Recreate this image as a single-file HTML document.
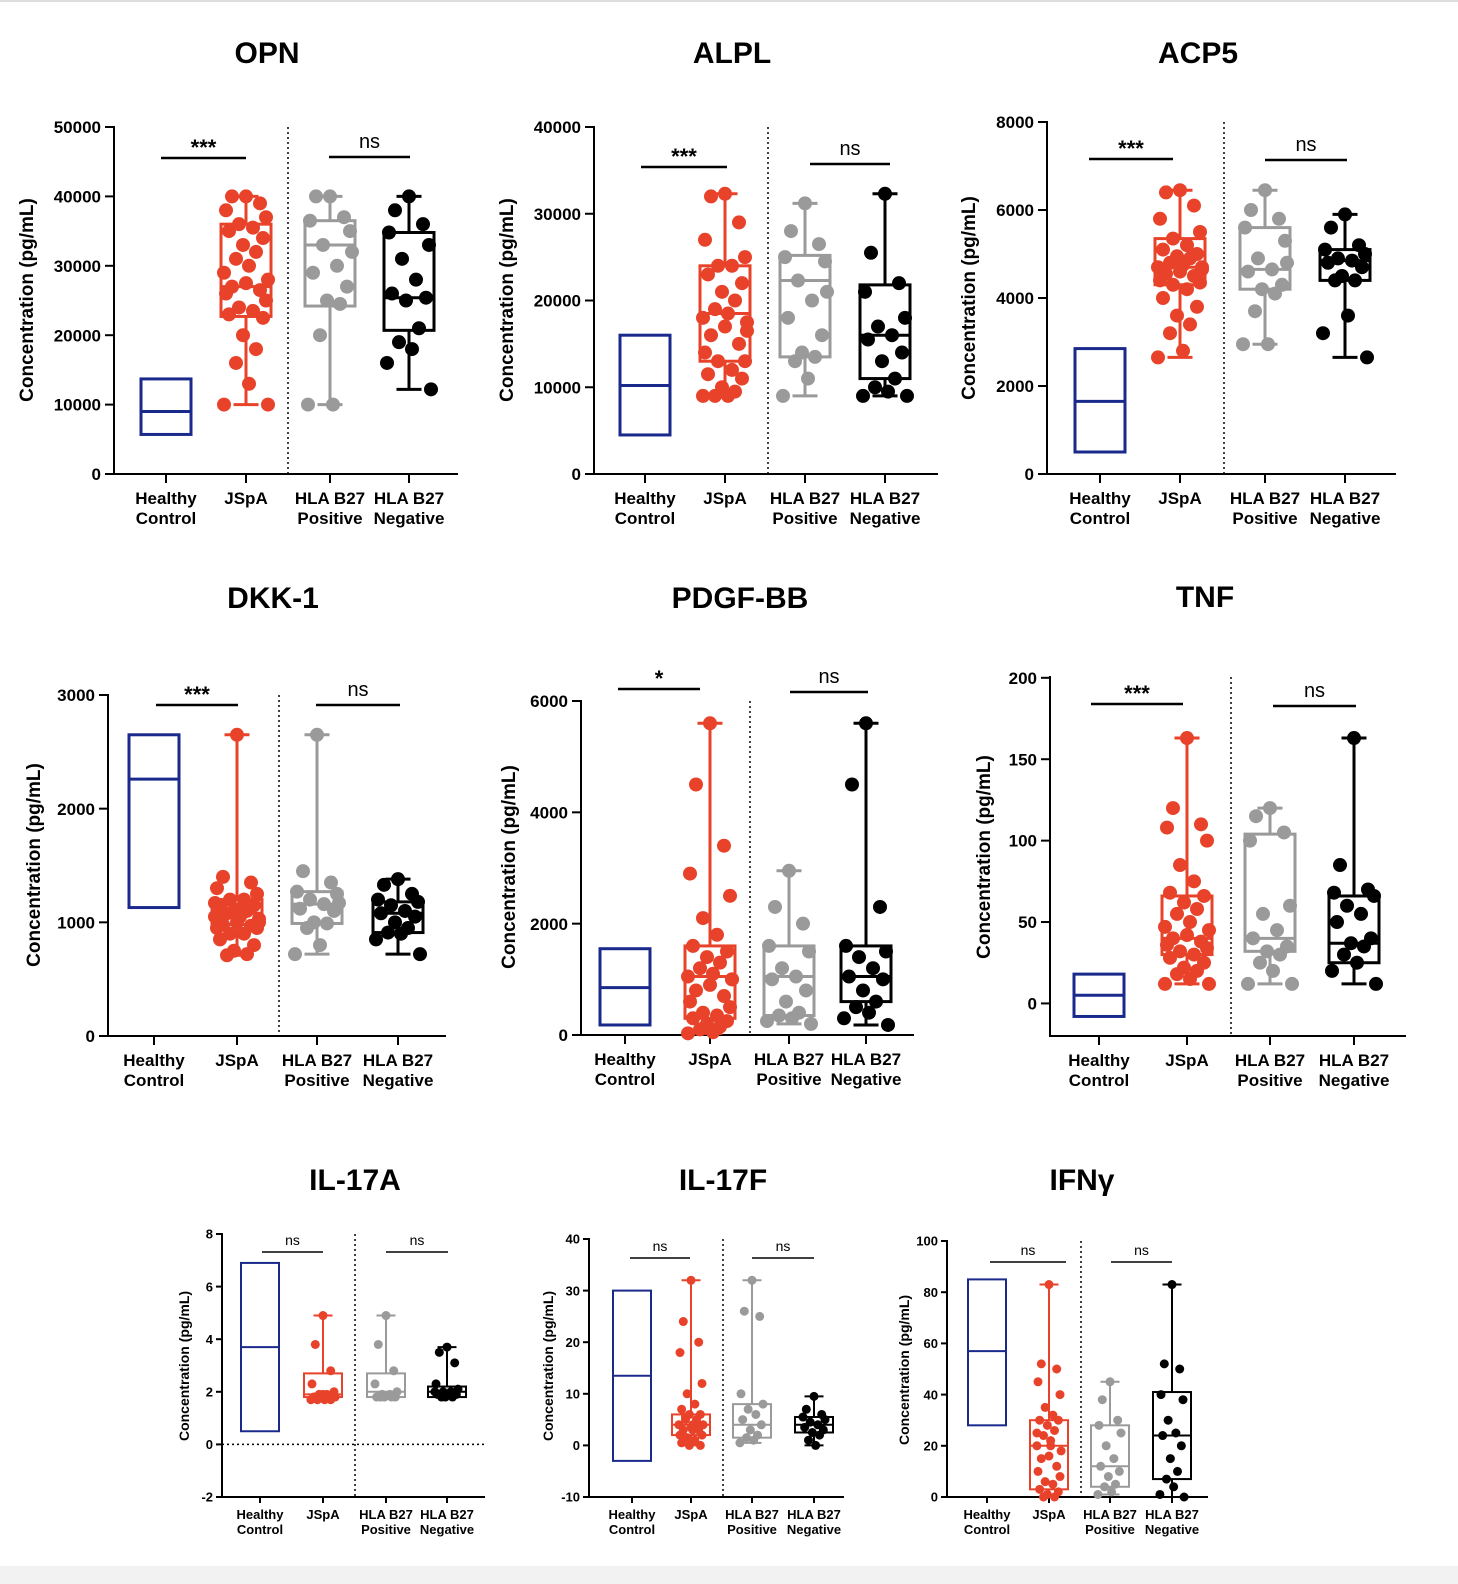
<!DOCTYPE html>
<html><head><meta charset="utf-8">
<style>
html,body{margin:0;padding:0;background:#fff;}
svg{display:block;font-family:"Liberation Sans",Arial,sans-serif;}
</style></head>
<body>
<svg id="fig" width="1458" height="1584" viewBox="0 0 1458 1584" xmlns="http://www.w3.org/2000/svg">
<rect x="0" y="0" width="1458" height="1584" fill="#fff"/>
<rect x="0" y="0" width="1458" height="2" fill="#ddd"/>
<rect x="0" y="1566" width="1458" height="18" fill="#f2f2f2"/>
</svg>
<script>
const groups=["Healthy Control","JSpA","HLA B27 Positive","HLA B27 Negative"];
// box stats: [min,q1,median,q3,max]; HC: [q1,median,q3]
const OPN_HC=[5700,9000,13700];
const OPN_BOX=[[10000,22700,27000,36000,40000],[10000,24200,33000,36500,40000],[12200,20700,25400,34800,40000]];
const OPN_P1=[40000,40000,39000,38000,37000,36000,35500,35000,34000,33000,32000,31000,30000,29000,28000,27500,27000,26500,26000,25000,24000,23500,23000,22500,20000,18000,16000,13000,10000,10000];
const OPN_P2=[40000,40000,37000,36500,35000,33000,30000,29000,27000,25000,24500,20000,10000,10000,32000];
const OPN_P3=[40000,38000,36000,34800,33000,31000,28000,26000,25400,25000,21000,19000,18000,16000,12200];
const ALPL_HC=[4500,10200,16000];
const ALPL_BOX=[[9000,13000,18500,24000,32300],[9000,13500,22300,25200,31200],[9000,11000,16000,21800,32300]];
const ALPL_P1=[32300,32000,29000,27000,25000,24000,24000,23000,22000,21000,20000,19000,18500,18000,17500,17000,16000,15000,14000,13000,13000,12000,11500,11000,10000,9500,9000,9000,9000,16500];
const ALPL_P2=[31200,28000,26500,25000,24500,22300,20000,18000,16000,14000,13500,13000,11000,9000,21000];
const ALPL_P3=[32300,25500,22000,21000,18000,17000,16000,15500,14000,13000,11000,10000,9500,9000,9000];
const ACP5_HC=[500,1650,2850];
const ACP5_BOX=[[2650,4300,4700,5350,6450],[2950,4200,4650,5600,6450],[2650,4400,4850,5100,5900]];
const ACP5_P1=[6450,6400,6100,5800,5500,5350,5200,5100,5000,4950,4900,4800,4750,4700,4650,4600,4550,4500,4400,4350,4300,4200,4000,3800,3600,3400,3200,2800,2650,4700];
const ACP5_P2=[6450,6000,5800,5600,5300,4900,4650,4600,4300,4200,4100,3700,2950,2950,4800];
const ACP5_P3=[5900,5600,5200,5100,5000,4900,4850,4800,4700,4500,4400,4400,3600,3200,2650];
const DKK_HC=[1130,2260,2650];
const DKK_BOX=[[710,980,1080,1200,2650],[720,990,1160,1270,2650],[720,910,1080,1180,1380]];
const DKK_P1=[2650,1400,1350,1300,1250,1200,1200,1150,1150,1100,1100,1080,1050,1050,1000,1000,980,970,950,950,900,900,850,800,750,720,710,1120,1170,1030];
const DKK_P2=[2650,1450,1350,1270,1250,1200,1160,1120,1100,1000,990,950,800,720,1170];
const DKK_P3=[1380,1330,1250,1200,1180,1150,1100,1080,1050,1000,950,910,900,850,720];
const PDGF_HC=[180,850,1550];
const PDGF_BOX=[[30,300,1050,1600,5600],[200,350,1050,1600,2950],[180,600,1050,1600,5600]];
const PDGF_P1=[5600,4500,3400,2900,2500,2100,1800,1600,1500,1400,1300,1200,1100,1050,1000,900,800,700,600,500,400,350,300,250,200,150,100,50,30,1000];
const PDGF_P2=[2950,2300,2000,1600,1500,1200,1050,1000,800,600,400,350,300,250,200];
const PDGF_P3=[5600,4500,2300,1600,1500,1400,1200,1050,1000,800,600,500,400,300,180];
const TNF_HC=[-8,5,18];
const TNF_BOX=[[12,30,40,66,163],[12,32,40,104,120],[12,25,37,66,163]];
const TNF_P1=[163,120,110,108,100,85,75,68,66,62,58,55,50,47,45,42,40,38,36,34,32,30,28,25,22,20,18,15,12,12];
const TNF_P2=[120,115,105,100,60,55,45,40,35,32,30,25,20,12,12];
const TNF_P3=[163,85,70,68,66,60,55,50,40,37,35,30,25,20,12];
const IL17A_HC=[0.5,3.7,6.9];
const IL17A_BOX=[[1.7,1.8,1.9,2.7,4.9],[1.8,1.8,2.0,2.7,4.9],[1.8,1.8,2.0,2.2,3.7]];
const IL17A_P1=[4.9,3.8,2.8,2.3,2.0,1.9,1.9,1.8,1.8,1.8,1.8,1.7,1.7,1.7,1.8,1.9,1.8,1.7];
const IL17A_P2=[4.9,3.8,2.8,2.3,2.0,1.9,1.9,1.8,1.8,1.8,1.8,1.8];
const IL17A_P3=[3.7,3.5,3.1,2.3,2.1,2.0,2.0,1.9,1.9,1.8,1.8,1.8,1.9,2.0];
const IL17F_HC=[-3,13.5,30];
const IL17F_BOX=[[0,2,4,6,32],[0.5,1.5,4,8,32],[0,2.5,4,5.5,9.5]];
const IL17F_P1=[32,24,20,18,12,10,8,7,6,6,5,5,4,4,4,3.5,3,3,2,2,1.5,1,0.5,0,0,4.5,5.5,3];
const IL17F_P2=[32,26,25,10,8,7,6,5,4,3,2,1.5,1,0.5];
const IL17F_P3=[9.5,7,6,5.5,5,4.5,4,3.5,3,2.5,2,1,0];
const IFN_HC=[28,57,85];
const IFN_BOX=[[0,3,20,30,83],[1,4,12,28,45],[0,7,24,41,83]];
const IFN_P1=[83,52,50,45,40,35,32,30,30,28,26,24,22,20,18,16,15,12,10,8,6,5,3,2,1,0,0,20,25];
const IFN_P2=[45,38,30,28,25,20,15,12,10,8,5,4,2,1];
const IFN_P3=[83,52,50,40,38,30,25,24,20,15,10,7,4,1,0];
const OPN_TICKS=[0,10000,20000,30000,40000,50000];
const ALPL_TICKS=[0,10000,20000,30000,40000];
const ACP5_TICKS=[0,2000,4000,6000,8000];
const DKK_TICKS=[0,1000,2000,3000];
const PDGF_TICKS=[0,2000,4000,6000];
const TNF_TICKS=[0,50,100,150,200];
const IL17A_TICKS=[-2,0,2,4,6,8];
const IL17F_TICKS=[-10,0,10,20,30,40];
const IFN_TICKS=[0,20,40,60,80,100];
const SIG=[["***","ns"],["***","ns"],["***","ns"],["***","ns"],["*","ns"],["***","ns"],["ns","ns"],["ns","ns"],["ns","ns"]];

const NS="http://www.w3.org/2000/svg";
const svg=document.getElementById('fig');
function mk(tag,attrs,parent){const e=document.createElementNS(NS,tag);for(const k in attrs)e.setAttribute(k,attrs[k]);(parent||svg).appendChild(e);return e;}
const COLORS=["#1a2a8c","#e8432a","#9a9a9a","#000"];
const JIT=[0,-14,14,-20,20,-7,7,-17,17,-3,10,-10,3,-22,22];

function panel(cfg,idx){
  const g=mk('g',{});
  
  
  const [dmin,dmax]=cfg.dom;
  const y=v=>cfg.bot-(v-dmin)/(dmax-dmin)*(cfg.bot-cfg.top);
  const small=cfg.small;
  const lw=small?2:3, r=small?4.5:7, bw=small?38:50, jit=small?0.55:1;
  const tf=small?13:17, lf=small?13:17;
  // title
  const t=mk('text',{x:cfg.tx,y:cfg.ty,'text-anchor':'middle','font-size':30,'font-weight':'bold'},g);t.textContent=cfg.title;
  
  // y label
  const yl=mk('text',{transform:`translate(${cfg.ylx},${cfg.yly}) rotate(-90)`,'text-anchor':'middle','font-size':small?14:19,'font-weight':'bold'},g);yl.textContent="Concentration (pg/mL)";
  
  // axes
  const ya=mk('line',{x1:cfg.ax,x2:cfg.ax,y1:cfg.top-1,y2:cfg.bot+1,stroke:'#000','stroke-width':2},g);
  
  const xa=mk('line',{x1:cfg.ax,x2:cfg.xr,y1:cfg.bot,y2:cfg.bot,stroke:'#000','stroke-width':2},g);
  
  cfg.ticks.forEach(v=>{
    mk('line',{x1:cfg.ax-(small?6:9),x2:cfg.ax,y1:y(v),y2:y(v),stroke:'#000','stroke-width':2},g);
    const tl=mk('text',{x:cfg.ax-(small?9:13),y:y(v)+tf*0.36,'text-anchor':'end','font-size':tf,'font-weight':'bold'},g);tl.textContent=String(v);
    
  });
  if(cfg.zeroLine) mk('line',{x1:cfg.ax,x2:cfg.xr,y1:y(0),y2:y(0),stroke:'#000','stroke-width':1.5,'stroke-dasharray':'2,3'},g);
  const dv=mk('line',{x1:cfg.div,x2:cfg.div,y1:cfg.top,y2:cfg.bot,stroke:'#000','stroke-width':1.5,'stroke-dasharray':'2,3'},g);
  
  cfg.gx.forEach((gx,i)=>{
    mk('line',{x1:gx,x2:gx,y1:cfg.bot,y2:cfg.bot+(small?6:9),stroke:'#000','stroke-width':2},g);
    const parts=i===0?["Healthy","Control"]:i===1?["JSpA"]:i===2?["HLA B27","Positive"]:["HLA B27","Negative"];
    parts.forEach((p,k)=>{const xt=mk('text',{x:gx,y:cfg.bot+(small?22:30)+k*(small?15:20),'text-anchor':'middle','font-size':lf,'font-weight':'bold'},g);xt.textContent=p;
      });
  });
  // HC box
  const hc=cfg.hc;
  const hb=mk('rect',{x:cfg.gx[0]-bw/2,y:y(hc[2]),width:bw,height:y(hc[0])-y(hc[2]),fill:'none',stroke:COLORS[0],'stroke-width':lw},g);
  
  mk('line',{x1:cfg.gx[0]-bw/2,x2:cfg.gx[0]+bw/2,y1:y(hc[1]),y2:y(hc[1]),stroke:COLORS[0],'stroke-width':lw},g);
  // other boxes
  cfg.box.forEach((b,j)=>{
    const gx=cfg.gx[j+1],c=COLORS[j+1];
    const bg=mk('g',{},g);
    
    
    mk('line',{x1:gx,x2:gx,y1:y(b[0]),y2:y(b[1]),stroke:c,'stroke-width':lw},bg);
    mk('line',{x1:gx,x2:gx,y1:y(b[3]),y2:y(b[4]),stroke:c,'stroke-width':lw},bg);
    mk('line',{x1:gx-bw/4,x2:gx+bw/4,y1:y(b[0]),y2:y(b[0]),stroke:c,'stroke-width':lw},bg);
    mk('line',{x1:gx-bw/4,x2:gx+bw/4,y1:y(b[4]),y2:y(b[4]),stroke:c,'stroke-width':lw},bg);
    mk('rect',{x:gx-bw/2,y:y(b[3]),width:bw,height:y(b[1])-y(b[3]),fill:'#fff','fill-opacity':0,stroke:c,'stroke-width':lw},bg);
    mk('line',{x1:gx-bw/2,x2:gx+bw/2,y1:y(b[2]),y2:y(b[2]),stroke:c,'stroke-width':lw},bg);
    cfg.pts[j].forEach((v,k)=>{
      const p=mk('circle',{cx:gx+JIT[k%JIT.length]*jit,cy:y(v),r:r,fill:c},bg);
      
      
    });
  });
  // significance
  cfg.sig.forEach((s,k)=>{
    const sl=mk('line',{x1:s[0],x2:s[1],y1:s[2],y2:s[2],stroke:'#000','stroke-width':small?1.5:2.5},g);
    
    const st=SIG[idx][k];
    const tt=mk('text',{x:(s[0]+s[1])/2,y:s[2]-(st==="ns"?(small?7:9):(small?3:3)),'text-anchor':'middle','font-size':st==="ns"?(small?14:20):(small?16:22),'font-weight':st==="ns"?'normal':'bold'},g);
    tt.textContent=st;
    
  });
}

const panels=[
 {id:'opn',title:'OPN',tx:267,ty:63,ax:114,xr:458,top:127,bot:474,dom:[0,50000],ticks:OPN_TICKS,gx:[166,246,330,409],div:288,ylx:33,yly:300,hc:OPN_HC,box:OPN_BOX,pts:[OPN_P1,OPN_P2,OPN_P3],sig:[[161,246,158],[329,410,157]]},
 {id:'alpl',title:'ALPL',tx:732,ty:63,ax:594,xr:938,top:127,bot:474,dom:[0,40000],ticks:ALPL_TICKS,gx:[645,725,805,885],div:768,ylx:513,yly:300,hc:ALPL_HC,box:ALPL_BOX,pts:[ALPL_P1,ALPL_P2,ALPL_P3],sig:[[641,727,167],[810,890,164]]},
 {id:'acp5',title:'ACP5',tx:1198,ty:63,ax:1047,xr:1396,top:122,bot:474,dom:[0,8000],ticks:ACP5_TICKS,gx:[1100,1180,1265,1345],div:1224,ylx:975,yly:298,hc:ACP5_HC,box:ACP5_BOX,pts:[ACP5_P1,ACP5_P2,ACP5_P3],sig:[[1089,1173,159],[1265,1347,160]]},
 {id:'dkk1',title:'DKK-1',tx:273,ty:608,ax:108,xr:446,top:695,bot:1036,dom:[0,3000],ticks:DKK_TICKS,gx:[154,237,317,398],div:279,ylx:40,yly:865,hc:DKK_HC,box:DKK_BOX,pts:[DKK_P1,DKK_P2,DKK_P3],sig:[[156,238,705],[316,400,705]]},
 {id:'pdgf-bb',title:'PDGF-BB',tx:740,ty:608,ax:581,xr:914,top:701,bot:1035,dom:[0,6000],ticks:PDGF_TICKS,gx:[625,710,789,866],div:750,ylx:515,yly:867,hc:PDGF_HC,box:PDGF_BOX,pts:[PDGF_P1,PDGF_P2,PDGF_P3],sig:[[618,700,689],[790,868,692]]},
 {id:'tnf',title:'TNF',tx:1205,ty:607,ax:1050,xr:1406,top:677,bot:1036,dom:[-20,200.5],ticks:TNF_TICKS,gx:[1099,1187,1270,1354],div:1231,ylx:990,yly:857,hc:TNF_HC,box:TNF_BOX,pts:[TNF_P1,TNF_P2,TNF_P3],sig:[[1091,1183,704],[1273,1356,706]]},
 {id:'il-17a',title:'IL-17A',tx:355,ty:1190,ax:222,xr:485,top:1234,bot:1497,dom:[-2,8],ticks:IL17A_TICKS,gx:[260,323,386,447],div:355,ylx:189,yly:1366,hc:IL17A_HC,box:IL17A_BOX,pts:[IL17A_P1,IL17A_P2,IL17A_P3],sig:[[262,323,1252],[386,448,1252]],small:true,zeroLine:true},
 {id:'il-17f',title:'IL-17F',tx:723,ty:1190,ax:589,xr:844,top:1239,bot:1497,dom:[-10,40],ticks:IL17F_TICKS,gx:[632,691,752,814],div:723,ylx:553,yly:1366,hc:IL17F_HC,box:IL17F_BOX,pts:[IL17F_P1,IL17F_P2,IL17F_P3],sig:[[630,690,1258],[752,814,1258]],small:true},
 {id:'ifn-gamma',title:'IFNγ',tx:1082,ty:1190,ax:947,xr:1208,top:1241,bot:1497,dom:[0,100],ticks:IFN_TICKS,gx:[987,1049,1110,1172],div:1081,ylx:909,yly:1370,hc:IFN_HC,box:IFN_BOX,pts:[IFN_P1,IFN_P2,IFN_P3],sig:[[990,1066,1262],[1111,1172,1262]],small:true}
];
panels.forEach((p,i)=>panel(p,i));
</script>
</body></html>
